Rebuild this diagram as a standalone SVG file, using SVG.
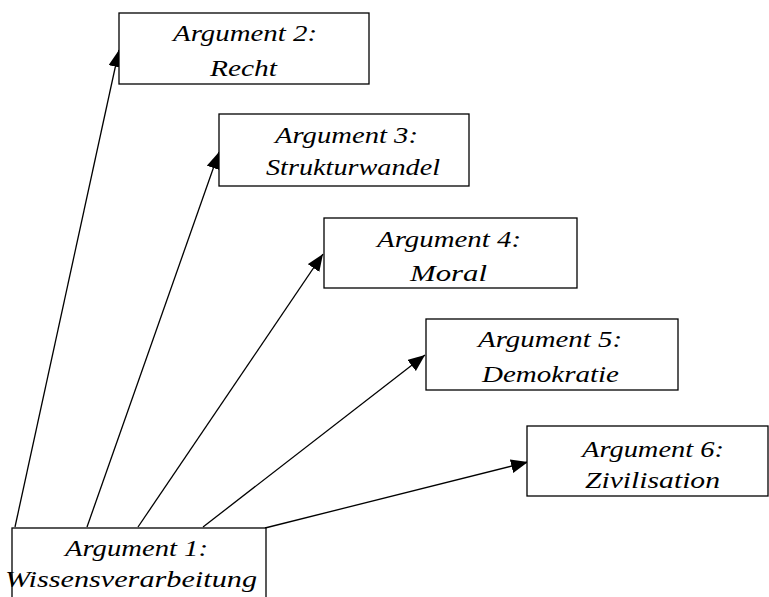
<svg xmlns="http://www.w3.org/2000/svg" width="769" height="597" viewBox="0 0 769 597">
<style>
.box{fill:#fff;stroke:#000;stroke-width:1.3}
.t{font-family:"Liberation Serif","Times New Roman",serif;font-style:italic;font-size:22.5px;fill:#000}
.c{stroke:#000;stroke-width:1.3;fill:none;marker-end:url(#ah)}
</style>
<defs>
<marker id="ah" markerUnits="userSpaceOnUse" markerWidth="18" markerHeight="15" refX="17" refY="7" orient="auto" viewBox="0 0 18 15">
<path d="M0,0 L17,7 L0,14 z" fill="#000"/>
</marker>
</defs>
<rect width="769" height="597" fill="#fff"/>
<g id="connectors">
<line class="c" x1="15" y1="527" x2="119" y2="50"/>
<line class="c" x1="87" y1="527" x2="219" y2="152"/>
<line class="c" x1="138" y1="527" x2="323" y2="254"/>
<line class="c" x1="203" y1="527" x2="425" y2="355"/>
<line class="c" x1="265" y1="528" x2="528" y2="462"/>
</g>
<g id="n1">
<rect class="box" x="12" y="528" width="254" height="80"/>
<text class="t" x="65" y="556" textLength="143" lengthAdjust="spacingAndGlyphs">Argument 1:</text>
<text class="t" x="5" y="587" textLength="252" lengthAdjust="spacingAndGlyphs">Wissensverarbeitung</text>
</g>
<g id="n2">
<rect class="box" x="119" y="13" width="250" height="71"/>
<text class="t" x="173" y="41" textLength="144" lengthAdjust="spacingAndGlyphs">Argument 2:</text>
<text class="t" x="210" y="76" textLength="67" lengthAdjust="spacingAndGlyphs">Recht</text>
</g>
<g id="n3">
<rect class="box" x="219" y="114" width="250" height="72"/>
<text class="t" x="275" y="143" textLength="143" lengthAdjust="spacingAndGlyphs">Argument 3:</text>
<text class="t" x="266" y="175" textLength="174" lengthAdjust="spacingAndGlyphs">Strukturwandel</text>
</g>
<g id="n4">
<rect class="box" x="324" y="218" width="253" height="70"/>
<text class="t" x="377" y="247" textLength="144" lengthAdjust="spacingAndGlyphs">Argument 4:</text>
<text class="t" x="410" y="281" textLength="77" lengthAdjust="spacingAndGlyphs">Moral</text>
</g>
<g id="n5">
<rect class="box" x="426" y="319" width="252" height="71"/>
<text class="t" x="478" y="347" textLength="144" lengthAdjust="spacingAndGlyphs">Argument 5:</text>
<text class="t" x="482" y="382" textLength="137" lengthAdjust="spacingAndGlyphs">Demokratie</text>
</g>
<g id="n6">
<rect class="box" x="527" y="426" width="241" height="70"/>
<text class="t" x="582" y="457" textLength="142" lengthAdjust="spacingAndGlyphs">Argument 6:</text>
<text class="t" x="585" y="488" textLength="135" lengthAdjust="spacingAndGlyphs">Zivilisation</text>
</g>
</svg>
